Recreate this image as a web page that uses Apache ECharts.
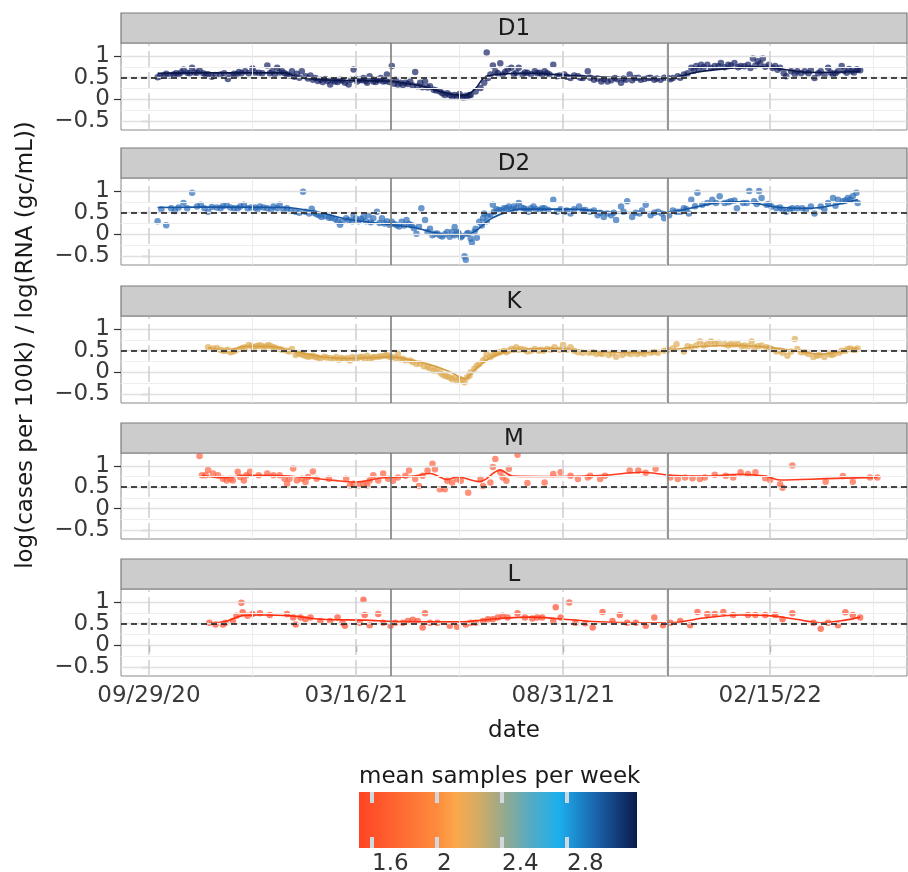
<!DOCTYPE html>
<html><head><meta charset="utf-8">
<script src="https://cdn.jsdelivr.net/npm/echarts@6/dist/echarts.min.js"></script>
<style>html,body{margin:0;padding:0;background:#fff}#c{width:908px;height:872px}</style>
</head><body><div id="c"></div>
<script>
// ---------------- data ----------------
const baseDate = '2020-09-29';               // day 0 of the x values below
const panelNames = ['D1', 'D2', 'K', 'M', 'L'];
const xTickDates = ['2020-09-29', '2021-03-16', '2021-08-31', '2022-02-15'];
const xTickLabels = ['09/29/20', '03/16/21', '08/31/21', '02/15/22'];
const changeDates = ['2021-04-13', '2021-11-24'];
const referenceLevel = 0.5;
const yTicks = [-0.5, 0, 0.5, 1];
const yMinorTicks = [-0.25, 0.25, 0.75];
const legendTitle = 'mean samples per week';
const legendTicks = [1.6, 2, 2.4, 2.8];
const legendRange = [1.52, 3.23];
const yTitle = 'log(cases per 100k) / log(RNA (gc/mL))';
const xTitle = 'date';

// [days since baseDate, value]
const d1Points = [[7,.51],[12,.55],[14,.59],[20,.57],[24,.57],[28,.69],[31,.61],[35,.73],[39,.61],[41,.67],[46,.57],[51,.52],[58,.57],[64,.47],[69,.59],[73,.63],[78,.65],[84,.71],[89,.61],[96,.78],[100,.65],[104,.73],[108,.65],[112,.57],[116,.65],[120,.59],[124,.65],[127,.53],[131,.55],[135,.49],[139,.45],[143,.47],[147,.34],[151,.41],[155,.45],[159,.38],[162,.34],[166,.69],[169,.41],[171,.45],[174,.49],[177,.38],[179,.53],[182,.41],[185,.45],[188,.49],[190,.41],[193,.57],[197,.77],[200,.45],[204,.38],[208,.38],[212,.41],[216,.63],[220,.38],[224,.41],[228,.3],[231,.22],[236,.18],[242,.14],
[9,.53],[17,.55],[22,.6],[26,.62],[33,.6],[37,.62],[44,.6],[48,.58],[54,.56],[61,.6],[66,.55],[71,.58],[75,.6],[81,.6],[86,.62],[92,.6],[98,.6],[102,.58],[106,.62],[110,.6],[114,.55],[118,.52],[122,.5],[129,.48],[133,.45],[137,.42],[141,.4],[145,.42],[149,.44],[153,.4],[157,.43],[164,.45],[168,.47],[173,.44],[176,.42],[181,.46],[184,.4],[187,.44],[192,.42],[195,.4],[199,.36],[202,.34],[206,.33],[210,.35],[214,.32],[218,.3],[222,.28],
[226,.27],[233,.2],[238,.14],[240,.1],[244,.1],[246,.06],[250,.06],[252,.12],[255,.04],[257,.08],[260,.1],
[248,.1],[253,.06],[258,.05],[261,.1],[265,.18],[269,.26],[272,.38],[274,1.08],[275,.49],[277,.57],[279,.78],[281,.65],[285,.83],[287,.57],[291,.69],[294,.73],[298,.61],[300,.73],[303,.57],[307,.61],[313,.65],[317,.61],[321,.65],[325,.57],[328,.8],[331,.53],[337,.57],[342,.49],[348,.53],[352,.49],[356,.65],[361,.45],[367,.41],[372,.41],[378,.49],[383,.38],[387,.45],[390,.57],[394,.49],[399,.45],[405,.49],[410,.45],[415,.45],[421,.49],[425,.49],[429,.53],[434,.57],[440,.73],[444,.77],[448,.8],[453,.8],[459,.77],[464,.84],[470,.8],[475,.84],[480,.77],[486,.8],[490,.94],[494,.88],[498,.94],[503,.8],[508,.77],[512,.73],[517,.53],[521,.65],[526,.65],[532,.65],[537,.67],[540,.49],[545,.65],[551,.73],[555,.57],[559,.65],[562,.77],[566,.61],[570,.65],[574,.69],[577,.67],
[283,.6],[289,.63],[296,.58],[305,.62],[310,.58],[315,.6],[319,.57],[323,.6],[333,.55],[339,.52],[345,.55],[350,.5],[358,.5],[364,.48],[369,.46],[375,.44],[380,.46],[385,.48],[392,.44],[397,.5],[402,.47],[407,.5],[412,.48],[418,.5],[423,.46],[431,.5],[437,.6],[442,.66],[446,.7],[450,.74],[456,.72],[462,.76],[467,.74],[472,.78],[478,.74],[483,.76],[488,.72],[492,.78],[496,.82],[500,.75],[506,.72],[510,.68],[515,.6],[524,.58],[529,.6],[535,.6],[543,.6],[548,.56],[553,.62],[557,.6],[564,.66],[568,.7],[572,.62],[575,.68]];
const d1Fit = [[7,.6],[40,.61],[80,.61],[110,.61],[120,.52],[140,.45],[170,.43],[196,.42],[210,.36],[222,.3],[240,.15],[256,.09],[265,.25],[272,.5],[285,.58],[309,.6],[342,.55],[382,.5],[423,.49],[443,.62],[472,.72],[496,.75],[512,.7],[537,.62],[577,.64]];

const d2Points = [[7,.3],[14,.21],[21,.54],[28,.72],[35,.96],[39,.64],[42,.68],[48,.52],[55,.62],[63,.67],[69,.6],[77,.68],[83,.62],[90,.64],[96,.6],[101,.64],[106,.68],[112,.6],[119,.52],[125,.98],[127,.52],[132,.59],[136,.46],[140,.4],[146,.38],[155,.22],[160,.37],[165,.3],[166,.44],[170,.3],[174,.4],[178,.44],[182,.37],[185,.52],[189,.37],[193,.3],[197,.29],[201,.21],[205,.29],[209,.33],[213,.21],[217,.01],[221,.6],[224,.33],[228,.13],[232,.01],[236,-.03],[242,.05],[246,.05],
[10,.58],[18,.6],[24,.62],[31,.6],[45,.6],[51,.63],[58,.6],[60,.65],[66,.62],[72,.6],[74,.64],[80,.6],[86,.62],[88,.58],[93,.62],[99,.56],[104,.6],[109,.58],[115,.55],[122,.5],[130,.48],[134,.5],[138,.44],[143,.42],[148,.38],[151,.35],[153,.3],[157,.3],[162,.33],[168,.36],[172,.35],[176,.3],[180,.28],[187,.26],[191,.25],[195,.22],[199,.24],[203,.18],[207,.2],[211,.24],[215,.14],[219,.18],[226,.05],[230,-.02],[234,.02],[238,-.05],[240,0],[244,-.06],[248,-.02],[251,.03],[254,-.04],[259,.03],[261,-.1],
[248,.17],[250,.05],[253,-.07],[256,-.51],[257,-.59],[258,.01],[262,-.19],[264,.05],[265,.13],[268,.29],[271,.37],[272,.48],[275,.44],[279,.68],[280,.52],[284,.56],[288,.6],[292,.64],[296,.64],[300,.72],[304,.6],[308,.52],[312,.64],[317,.56],[321,.6],[328,.8],[331,.52],[337,.52],[342,.48],[349,.64],[354,.56],[358,.52],[364,.44],[369,.4],[375,.44],[379,.33],[383,.64],[388,.76],[392,.4],[398,.48],[403,.68],[407,.44],[413,.52],[418,.37],[422,.44],[428,.52],[434,.6],[438,.48],[440,.8],[445,.96],[449,.68],[453,.72],[457,.8],[463,.88],[467,.72],[472,.76],[477,.6],[482,.72],[487,1.0],[491,.76],[495,1.0],[497,.84],[501,.68],[505,.64],[509,.6],[514,.56],[517,.52],[522,.6],[530,.6],[537,.64],[540,.48],[545,.64],[551,.72],[555,.84],[559,.8],[563,.76],[567,.84],[571,.88],[574,.96],[575,.72],
[266,-.08],[270,.2],[274,.3],[277,.45],[282,.58],[286,.55],[290,.6],[294,.58],[298,.6],[302,.62],[306,.58],[310,.6],[314,.58],[319,.6],[324,.56],[334,.58],[339,.55],[345,.58],[352,.55],[361,.55],[366,.5],[372,.48],[377,.5],[385,.52],[395,.5],[400,.55],[410,.5],[416,.48],[425,.55],[431,.52],[436,.58],[443,.65],[460,.72],[470,.74],[475,.78],[485,.72],[493,.7],[503,.7],[512,.62],[520,.58],[526,.6],[533,.56],[548,.58],[557,.66],[565,.78],[569,.8]];
const d2Fit = [[7,.62],[60,.63],[110,.62],[139,.5],[159,.36],[179,.28],[196,.22],[216,.15],[228,.06],[244,-.02],[256,-.03],[265,.08],[277,.35],[289,.5],[301,.58],[342,.58],[382,.5],[423,.52],[439,.6],[459,.72],[476,.75],[492,.72],[508,.63],[537,.6],[557,.68],[575,.8]];

const kPoints = [[48,.58],[52,.55],[58,.52],[62,.5],[66,.46],[70,.5],[74,.54],[78,.58],[81,.63],[85,.58],[89,.62],[93,.58],[97,.63],[101,.58],[106,.54],[112,.5],[116,.54],[119,.4],[123,.42],[127,.38],[131,.37],[135,.35],[139,.32],[144,.34],[150,.31],[154,.29],[158,.31],[163,.27],[167,.31],[171,.35],[175,.31],[179,.32],[183,.35],[188,.37],[193,.4],[197,.35],[202,.42],[206,.31],[212,.27],[217,.19],[223,.14],[228,.09],[231,.04],[236,0],[240,-.08],[244,-.12],
[248,-.12],[252,-.15],[256,-.23],[258,-.12],[261,0],[264,.08],[268,.19],[271,.27],[274,.42],[277,.35],[281,.42],[285,.46],[290,.46],[294,.54],[298,.58],[302,.54],[307,.48],[313,.54],[318,.52],[323,.54],[329,.58],[336,.63],[342,.58],[348,.46],[352,.45],[357,.45],[363,.42],[368,.42],[373,.4],[379,.36],[384,.4],[391,.42],[396,.42],[402,.42],[407,.45],[413,.45],[421,.52],[428,.65],[434,.48],[440,.58],[447,.71],[453,.65],[456,.71],[462,.68],[467,.65],[472,.65],[478,.65],[483,.62],[489,.71],[491,.58],[497,.62],[501,.58],[505,.54],[509,.48],[514,.45],[518,.38],[524,.77],[526,.54],[532,.46],[539,.35],[544,.4],[548,.35],[552,.42],[556,.42],[562,.5],[567,.54],[571,.52],[575,.55],
[55,.56],[60,.5],[64,.52],[68,.48],[76,.56],[83,.6],[87,.6],[91,.62],[95,.6],[99,.6],[103,.56],[108,.52],[114,.48],[121,.44],[125,.4],[129,.36],[133,.38],[137,.34],[142,.36],[147,.33],[152,.35],[156,.33],[161,.33],[165,.35],[169,.33],[173,.36],[177,.38],[181,.34],[186,.36],[191,.38],[195,.36],[200,.33],[204,.3],[208,.28],[214,.24],[220,.2],[226,.12],[233,.05],[238,-.05],[242,-.1],[246,-.16],[250,-.2],[254,-.18],[260,-.08],[266,.15],[273,.32],[279,.4],[283,.45],[288,.5],[292,.5],[296,.52],[300,.52],[305,.52],[310,.5],[316,.5],[320,.5],[326,.52],[333,.52],[339,.52],[345,.5],[360,.46],[366,.44],[376,.44],[388,.44],[399,.45],[410,.47],[418,.5],[425,.55],[437,.6],[444,.62],[450,.62],[459,.66],[470,.62],[475,.64],[481,.6],[486,.6],[494,.6],[503,.56],[512,.5],[521,.48],[529,.46],[535,.42],[542,.38],[554,.4],[560,.45],[565,.5],[569,.55],[573,.52]];
const kFit = [[48,.57],[62,.51],[80,.6],[100,.59],[115,.5],[140,.36],[160,.32],[195,.35],[225,.2],[245,0],[256,-.15],[265,.08],[280,.38],[300,.52],[330,.55],[360,.48],[400,.45],[423,.52],[450,.6],[480,.62],[505,.57],[525,.49],[545,.42],[565,.5],[575,.55]];

const mPoints = [[41,1.23],[43,.78],[46,.78],[48,.9],[52,.82],[56,.78],[60,.7],[63,.66],[66,.7],[68,.66],[72,.86],[74,.74],[77,.66],[79,.78],[82,.86],[89,.78],[96,.82],[101,.78],[106,.78],[110,.7],[112,.58],[114,.7],[117,.94],[120,.66],[124,.7],[127,.62],[129,.74],[133,.87],[136,.7],[146,.7],[160,.7],[163,.54],[166,.58],[170,.54],[174,.58],[177,.54],[179,.66],[182,.78],[186,.66],[190,.82],[194,.7],
[198,.65],[202,.73],[208,.77],[211,.89],[216,.69],[219,.53],[222,.77],[226,.89],[230,1.05],[232,.92],[236,.45],[240,.45],[242,.65],[246,.61],[250,.69],[253,.65],[259,.37],[269,.69],[271,.53],[277,.61],[279,.97],[281,1.16],[285,.85],[287,.73],[290,.65],[292,.93],[299,1.26],[307,.6],[321,.61],[328,.81],[334,.85],[342,.77],[348,.69],[356,.73],[358,.77],[366,.69],[370,.77],[390,.89],[397,.89],[403,.84],[411,.93],[423,.73],[429,.69],[435,.73],[441,.71],[447,.69],[451,.73],[459,.79],[468,.77],[474,.73],[480,.85],[486,.81],[492,.85],[500,.71],[504,.67],[512,.57],[514,.49],[522,1.01],[549,.63],[563,.76],[571,.63],[585,.73],[591,.73]];
const mFit = [[43,.78],[60,.72],[80,.78],[100,.78],[130,.72],[150,.66],[167,.62],[190,.72],[215,.76],[228,.82],[242,.68],[250,.74],[268,.63],[285,.9],[295,.76],[330,.75],[370,.78],[400,.85],[423,.78],[450,.76],[480,.8],[500,.76],[512,.67],[550,.7],[591,.73]];

const lPoints = [[49,.52],[54,.48],[60,.48],[62,.52],[68,.56],[71,.68],[75,.98],[76,.76],[80,.68],[84,.72],[90,.74],[98,.7],[112,.72],[117,.64],[119,.48],[123,.64],[127,.6],[131,.64],[139,.56],[147,.56],[153,.64],[157,.52],[159,.45],[171,.52],[174,1.05],[175,.7],[179,.46],[186,.72],[190,.52],[196,.45],[200,.52],[206,.52],[210,.56],[214,.59],[218,.56],[222,.41],[224,.74],[228,.52],[234,.52],[244,.45],[250,.43],[257,.48],[261,.52],[265,.52],[271,.56],[275,.6],[279,.6],[283,.64],[287,.68],[291,.64],[299,.74],[305,.64],[311,.62],[315,.64],[319,.64],[328,.56],[330,.88],[334,.64],[341,.99],[346,.52],[354,.51],[360,.41],[368,.77],[376,.56],[382,.7],[388,.52],[395,.52],[403,.45],[410,.64],[417,.46],[423,.52],[431,.56],[439,.46],[445,.77],[453,.72],[459,.72],[466,.77],[474,.7],[486,.7],[492,.7],[500,.7],[508,.7],[514,.6],[522,.74],[539,.52],[545,.38],[551,.52],[559,.46],[565,.76],[571,.7],[577,.64]];
const lFit = [[49,.52],[62,.55],[75,.68],[90,.7],[115,.68],[140,.6],[175,.58],[200,.55],[250,.54],[285,.62],[310,.65],[330,.62],[360,.55],[400,.52],[423,.52],[450,.63],[480,.7],[505,.68],[525,.6],[545,.52],[565,.58],[577,.65]];

// ---------------- styles / layout ----------------
const FONT = '"DejaVu Sans", Verdana, sans-serif';
const panelStyle = [
  {points: d1Points, fit: d1Fit, dot: 'rgba(18,30,96,0.85)', line: '#0b1848'},
  {points: d2Points, fit: d2Fit, dot: 'rgba(38,104,182,0.85)', line: '#1656a2'},
  {points: kPoints, fit: kFit, dot: 'rgba(222,172,82,0.85)', line: '#d79f44'},
  {points: mPoints, fit: mFit, dot: 'rgba(255,92,58,0.85)', line: '#ff3a1c'},
  {points: lPoints, fit: lFit, dot: 'rgba(255,74,42,0.85)', line: '#ff2f12'}
];
const legendColorStops = [[1.52,'#ff4422'],[1.6,'#ff5029'],[2.0,'#fe8b3e'],[2.12,'#faa94c'],[2.25,'#d6ab63'],[2.4,'#9ba98b'],[2.58,'#52abc6'],[2.75,'#1cafec'],[2.97,'#1a66ae'],[3.23,'#0b1a4b']];

const panelTops = [43, 178, 316, 453, 589];
const panelHeights = [87, 87, 87, 86, 87];
const gridLeft = 121, gridWidth = 786, stripH = 30;
const xMin = -22.7, xMax = 615, yMin = -0.71, yMax = 1.30;

const DAY = 86400000;
const dayOf = s => Math.round((Date.parse(s) - Date.parse(baseDate)) / DAY);
const xTickDays = xTickDates.map(dayOf);
const xMinorDays = xTickDays.map(d => d + (xTickDays[1] - xTickDays[0]) / 2);
const changeDays = changeDates.map(dayOf);
const fmtY = v => (v < 0 ? '\u2212' + String(-v) : String(v));
// labels split over two overlaid axes so that ECharts does not hide neighbouring labels
const yTickSets = [yTicks.filter((_, k) => k % 2 === 0), yTicks.filter((_, k) => k % 2 === 1)];

const grids = [], xAxes = [], yAxes = [], series = [], graphics = [];

panelNames.forEach((name, i) => {
  const top = panelTops[i], h = panelHeights[i], bottom = i === panelNames.length - 1;
  grids.push({left: gridLeft, width: gridWidth, top: top, height: h, show: true,
    backgroundColor: '#ffffff', borderColor: '#8a8a8a', borderWidth: 1, containLabel: false, outerBoundsMode: 'none'});
  xAxes.push({gridIndex: i, type: 'value', min: xMin, max: xMax,
    axisLine: {show: false}, splitLine: {show: false},
    axisTick: bottom ? {show: true, customValues: xTickDays, length: 7, lineStyle: {color: '#333', width: 1.2}} : {show: false},
    axisLabel: bottom ? {show: true, customValues: xTickDays, hideOverlap: false, margin: 9, fontSize: 23, fontFamily: FONT, color: '#3a3a3a',
      formatter: v => xTickLabels[xTickDays.indexOf(Math.round(v))] || ''} : {show: false},
    name: bottom ? xTitle : '', nameLocation: 'middle', nameGap: 44,
    nameTextStyle: {fontSize: 23, fontFamily: FONT, color: '#1a1a1a'}});
  yTickSets.forEach(vals => {
    yAxes.push({gridIndex: i, type: 'value', position: 'left', offset: 0, min: yMin, max: yMax,
      axisLine: {show: false}, splitLine: {show: false},
      axisTick: {show: true, customValues: vals, length: 7, lineStyle: {color: '#333', width: 1.2}},
      axisLabel: {show: true, customValues: vals, hideOverlap: false, showMinLabel: true, showMaxLabel: true,
        margin: 11, fontSize: 23, fontFamily: FONT, color: '#3a3a3a', formatter: fmtY}});
  });
  const yi = 2 * i;

  const ml = (data) => ({silent: true, symbol: ['none', 'none'], label: {show: false}, animation: false,
    emphasis: {disabled: true}, data: data});
  // panel grid lines
  series.push({type: 'line', xAxisIndex: i, yAxisIndex: yi, data: [], z: 1, silent: true,
    markLine: ml([
      ...yMinorTicks.map(v => ({yAxis: v, lineStyle: {color: '#efefef', width: 1, type: 'solid'}})),
      ...yTicks.map(v => ({yAxis: v, lineStyle: {color: '#e0e0e0', width: 1.3, type: 'solid'}})),
      ...xMinorDays.filter(d => d < xMax).map(d => ({xAxis: d, lineStyle: {color: '#ececec', width: 1, type: 'solid'}})),
      ...xTickDays.map(d => ({xAxis: d, lineStyle: {color: '#d2d2d2', width: 1.6, type: [16, 5]}}))
    ])});
  const st = panelStyle[i];
  series.push({type: 'scatter', name: name, xAxisIndex: i, yAxisIndex: yi, data: st.points, symbolSize: 6.5,
    itemStyle: {color: st.dot}, z: 3, silent: true});
  series.push({type: 'line', xAxisIndex: i, yAxisIndex: yi, data: st.fit, smooth: 0.35, showSymbol: false,
    lineStyle: {color: st.line, width: 1.6}, z: 4, silent: true});
  series.push({type: 'line', xAxisIndex: i, yAxisIndex: yi, data: [], z: 5, silent: true,
    markLine: ml([
      {yAxis: referenceLevel, lineStyle: {color: '#111', width: 1.6, type: [6, 4]}},
      ...changeDays.map(d => ({xAxis: d, lineStyle: {color: '#7d7d7d', width: 1.6, type: 'solid'}}))
    ])});

  graphics.push({type: 'rect', shape: {x: gridLeft, y: top - stripH, width: gridWidth, height: stripH},
    style: {fill: '#cccccc', stroke: '#7a7a7a', lineWidth: 1.2}, z: 10});
  graphics.push({type: 'text', x: gridLeft + gridWidth / 2, y: top - stripH / 2 + 1,
    style: {text: name, font: '23px ' + FONT, fill: '#1a1a1a', textAlign: 'center', textVerticalAlign: 'middle'}, z: 11});
});

// colour-bar legend
const li = panelNames.length;
const lyi = yAxes.length;
const lgLeft = 359, lgTop = 792, lgW = 278, lgH = 56;
const span = legendRange[1] - legendRange[0];
grids.push({left: lgLeft, top: lgTop, width: lgW, height: lgH, show: true, borderWidth: 0, containLabel: false, outerBoundsMode: 'none',
  backgroundColor: {type: 'linear', x: 0, y: 0, x2: 1, y2: 0,
    colorStops: legendColorStops.map(([v, c]) => ({offset: (v - legendRange[0]) / span, color: c}))}});
const legendTick = {show: true, inside: true, customValues: legendTicks, length: 11, lineStyle: {color: '#d2d8df', width: 4}};
xAxes.push({gridIndex: li, type: 'value', position: 'bottom', min: legendRange[0], max: legendRange[1],
  axisLine: {show: false}, splitLine: {show: false}, axisTick: legendTick,
  axisLabel: {show: true, customValues: legendTicks, hideOverlap: false, align: 'left', margin: 5, fontSize: 23, fontFamily: FONT, color: '#333'}});
xAxes.push({gridIndex: li, type: 'value', position: 'top', min: legendRange[0], max: legendRange[1],
  axisLine: {show: false}, splitLine: {show: false}, axisTick: legendTick, axisLabel: {show: false}});
yAxes.push({gridIndex: li, type: 'value', min: 0, max: 1, show: false});
series.push({type: 'line', xAxisIndex: li, yAxisIndex: lyi, data: [], silent: true});

graphics.push({type: 'text', x: lgLeft, y: 777,
  style: {text: legendTitle, font: '23px ' + FONT, fill: '#1a1a1a', textAlign: 'left', textVerticalAlign: 'middle'}, z: 11});
graphics.push({type: 'text', x: 26, y: 345, rotation: Math.PI / 2,
  style: {text: yTitle, font: '23px ' + FONT, fill: '#1a1a1a', textAlign: 'center', textVerticalAlign: 'middle'}, z: 11});

const chart = echarts.init(document.getElementById('c'), null, {renderer: 'canvas'});
chart.setOption({
  animation: false,
  backgroundColor: '#ffffff',
  grid: grids, xAxis: xAxes, yAxis: yAxes, series: series,
  graphic: {elements: graphics}
});
</script>
</body></html>
